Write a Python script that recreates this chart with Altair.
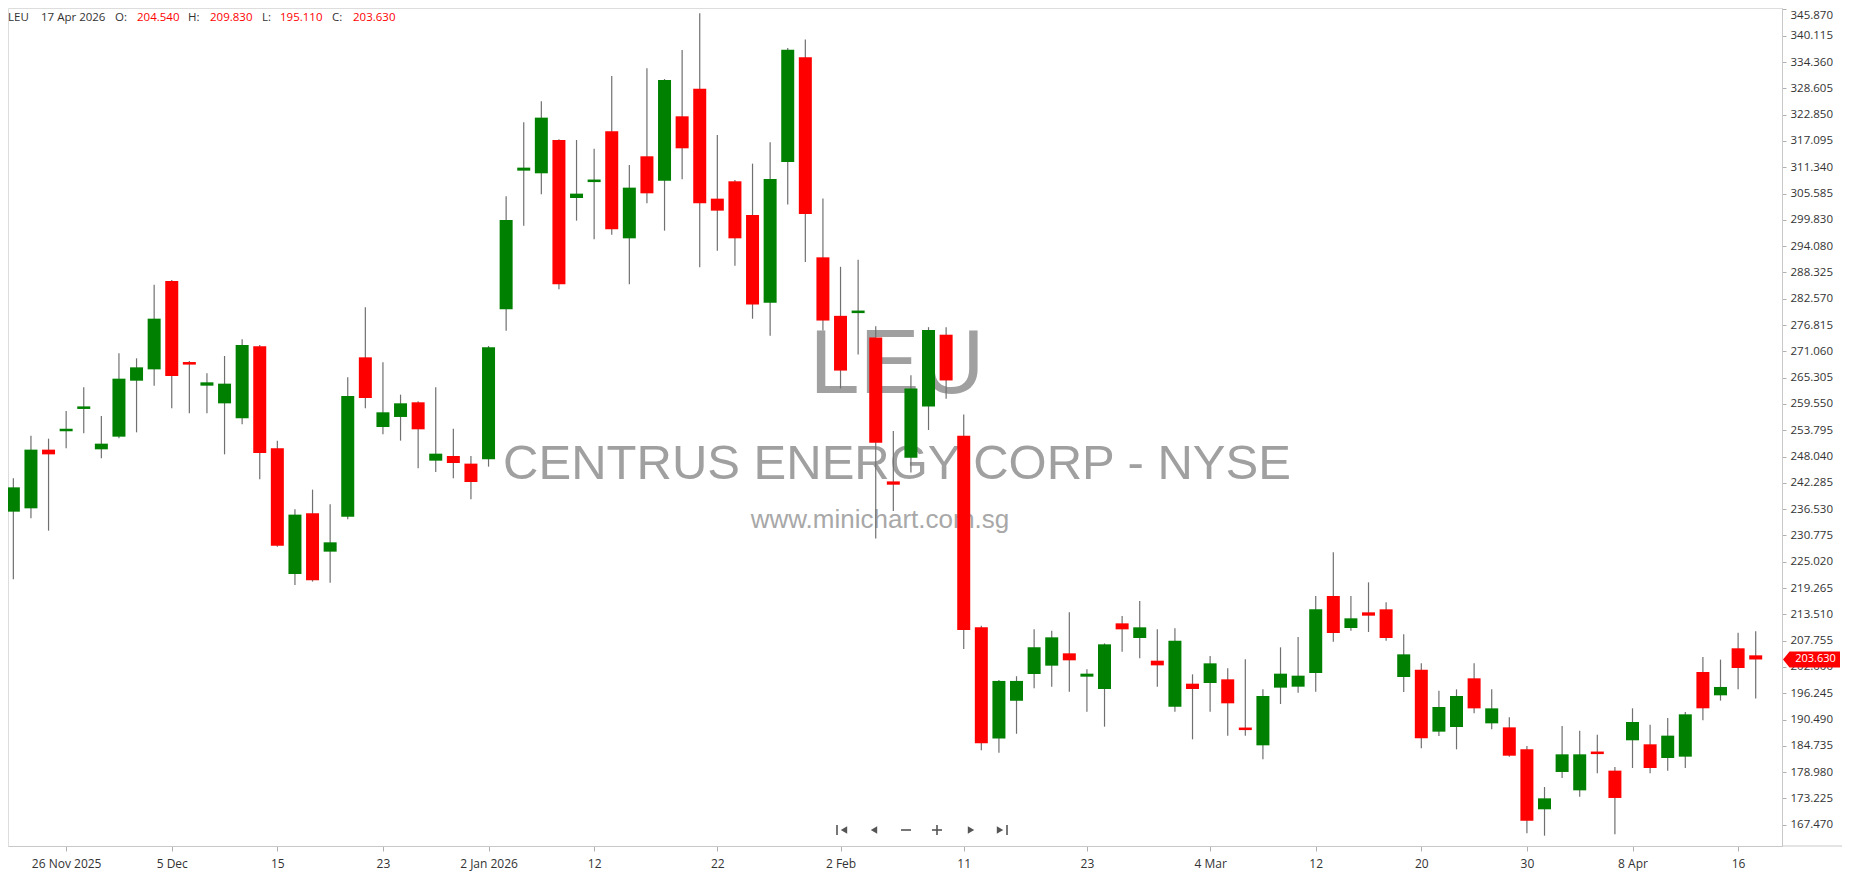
import altair as alt
import pandas as pd

# ---------------- data ----------------
dates = [
    "2025-11-21", "2025-11-24", "2025-11-25", "2025-11-26", "2025-11-28",
    "2025-12-01", "2025-12-02", "2025-12-03", "2025-12-04", "2025-12-05",
    "2025-12-08", "2025-12-09", "2025-12-10", "2025-12-11", "2025-12-12",
    "2025-12-15", "2025-12-16", "2025-12-17", "2025-12-18", "2025-12-19",
    "2025-12-22", "2025-12-23", "2025-12-24", "2025-12-26", "2025-12-29",
    "2025-12-30", "2025-12-31", "2026-01-02", "2026-01-05", "2026-01-06",
    "2026-01-07", "2026-01-08", "2026-01-09", "2026-01-12", "2026-01-13",
    "2026-01-14", "2026-01-15", "2026-01-16", "2026-01-20", "2026-01-21",
    "2026-01-22", "2026-01-23", "2026-01-26", "2026-01-27", "2026-01-28",
    "2026-01-29", "2026-01-30", "2026-02-02", "2026-02-03", "2026-02-04",
    "2026-02-05", "2026-02-06", "2026-02-09", "2026-02-10", "2026-02-11",
    "2026-02-12", "2026-02-13", "2026-02-17", "2026-02-18", "2026-02-19",
    "2026-02-20", "2026-02-23", "2026-02-24", "2026-02-25", "2026-02-26",
    "2026-02-27", "2026-03-02", "2026-03-03", "2026-03-04", "2026-03-05",
    "2026-03-06", "2026-03-09", "2026-03-10", "2026-03-11", "2026-03-12",
    "2026-03-13", "2026-03-16", "2026-03-17", "2026-03-18", "2026-03-19",
    "2026-03-20", "2026-03-23", "2026-03-24", "2026-03-25", "2026-03-26",
    "2026-03-27", "2026-03-30", "2026-03-31", "2026-04-01", "2026-04-02",
    "2026-04-06", "2026-04-07", "2026-04-08", "2026-04-09", "2026-04-10",
    "2026-04-13", "2026-04-14", "2026-04-15", "2026-04-16", "2026-04-17",
]

opens = [
    235.98, 236.71, 249.55, 253.78, 258.66, 249.62, 252.39, 264.64, 267.12, 286.45,
    268.66, 263.55, 259.68, 256.40, 272.16, 249.84, 222.34, 235.62, 227.23, 234.89,
    269.75, 254.51, 256.70, 259.91, 247.14, 248.16, 246.49, 247.43, 280.26, 310.60,
    310.02, 317.31, 304.62, 308.12, 319.21, 295.79, 313.74, 308.41, 322.49, 328.54,
    304.47, 308.27, 300.90, 281.72, 312.48, 335.39, 291.63, 278.83, 279.55, 274.08,
    242.60, 247.76, 259.01, 274.70, 252.61, 210.70, 186.34, 194.60, 200.46, 202.28,
    204.98, 199.87, 197.17, 211.54, 208.33, 203.37, 193.31, 198.34, 198.49, 199.29,
    188.57, 184.85, 197.47, 197.68, 200.67, 217.52, 210.52, 213.95, 214.61, 199.80,
    201.40, 187.84, 188.86, 199.51, 189.66, 188.78, 183.97, 170.85, 179.02, 175.00,
    183.32, 179.31, 185.95, 185.07, 182.08, 182.37, 200.90, 195.79, 206.08, 204.54,
]
highs = [
    243.27, 252.61, 251.95, 258.01, 263.19, 256.91, 270.62, 269.53, 285.65, 286.67,
    268.95, 266.25, 270.04, 273.69, 272.45, 251.52, 236.49, 240.80, 237.59, 265.38,
    280.69, 268.66, 261.58, 260.13, 263.19, 254.14, 248.16, 272.23, 305.00, 321.18,
    325.77, 317.46, 317.31, 315.41, 331.31, 311.84, 332.99, 330.66, 337.00, 345.03,
    318.40, 308.56, 312.13, 316.81, 337.46, 339.32, 304.53, 289.56, 291.11, 276.56,
    253.64, 265.82, 276.35, 276.35, 257.25, 211.01, 199.14, 199.97, 210.23, 209.94,
    213.95, 201.48, 207.16, 213.15, 216.43, 210.23, 210.45, 200.38, 204.39, 201.70,
    203.66, 197.10, 206.29, 208.55, 217.52, 227.08, 217.52, 220.51, 216.14, 209.14,
    202.79, 196.81, 197.10, 202.79, 197.10, 190.97, 184.70, 175.73, 189.08, 188.06,
    187.19, 180.11, 192.95, 189.37, 190.83, 192.15, 204.18, 203.60, 209.50, 209.83,
]
lows = [
    221.17, 234.52, 231.82, 249.84, 253.12, 247.65, 252.03, 253.34, 263.55, 258.59,
    257.50, 257.50, 248.52, 255.09, 243.05, 228.32, 219.94, 220.67, 220.45, 234.31,
    258.59, 252.90, 251.52, 245.46, 244.66, 243.27, 238.68, 245.83, 275.59, 298.56,
    305.42, 284.63, 299.66, 295.57, 296.60, 285.73, 303.45, 297.47, 308.70, 289.45,
    293.09, 289.81, 278.20, 274.49, 303.19, 290.60, 275.63, 262.93, 270.36, 230.11,
    236.10, 244.56, 253.85, 260.66, 205.95, 183.76, 183.25, 187.38, 197.32, 197.68,
    196.59, 192.21, 188.93, 205.34, 203.88, 197.68, 192.21, 186.16, 192.21, 186.96,
    186.96, 181.78, 193.89, 196.37, 196.59, 207.53, 209.94, 209.65, 207.75, 196.52,
    184.19, 186.89, 183.97, 191.85, 188.35, 182.37, 165.59, 165.08, 177.70, 173.62,
    178.72, 165.38, 179.89, 178.72, 179.31, 179.89, 190.32, 194.63, 197.10, 195.11,
]
closes = [
    241.30, 249.55, 248.52, 253.92, 258.81, 250.86, 265.08, 267.56, 278.21, 265.67,
    268.22, 264.28, 263.99, 272.45, 248.82, 228.54, 235.33, 220.96, 229.27, 261.29,
    260.85, 257.72, 259.69, 254.00, 248.67, 246.63, 242.47, 271.94, 299.80, 311.26,
    322.20, 285.73, 305.57, 308.63, 297.76, 306.88, 305.64, 330.44, 315.49, 303.45,
    301.85, 295.79, 281.33, 308.76, 337.04, 301.12, 277.80, 266.85, 279.86, 251.06,
    241.88, 262.93, 275.73, 264.69, 210.08, 185.31, 198.94, 198.94, 206.29, 208.48,
    203.45, 200.53, 206.95, 210.23, 210.67, 202.35, 207.75, 197.17, 202.79, 194.04,
    188.35, 195.64, 200.53, 200.09, 214.61, 209.43, 212.64, 213.22, 208.33, 204.76,
    186.38, 193.24, 195.64, 192.94, 192.94, 182.58, 168.36, 173.25, 182.88, 182.88,
    183.10, 173.33, 189.96, 179.89, 186.97, 191.63, 192.95, 197.62, 201.77, 203.63,
]

tick_idx = [3, 9, 15, 21, 27, 33, 40, 47, 54, 61, 68, 74, 80, 86, 92, 98]
tick_labels = ["26 Nov 2025", "5 Dec", "15", "23", "2 Jan 2026", "12", "22", "2 Feb",
               "11", "23", "4 Mar", "12", "20", "30", "8 Apr", "16"]

y_ticks = [167.470, 173.225, 178.980, 184.735, 190.490, 196.245, 202.000, 207.755,
           213.510, 219.265, 225.020, 230.775, 236.530, 242.285, 248.040, 253.795,
           259.550, 265.305, 271.060, 276.815, 282.570, 288.325, 294.080, 299.830,
           305.585, 311.340, 317.095, 322.850, 328.605, 334.360, 340.115, 345.870]

symbol = "LEU"
company = "CENTRUS ENERGY CORP - NYSE"
site = "www.minichart.com.sg"
last_date_label = "17 Apr 2026"

# ---------------- table ----------------
df = pd.DataFrame({"date": dates, "open": opens, "high": highs, "low": lows, "close": closes})
df["i"] = range(len(df))
df["dir"] = ["up" if c >= o else "down" for o, c in zip(df["open"], df["close"])]
hi = df[["open", "close"]].max(axis=1)
lo = df[["open", "close"]].min(axis=1)
mid = (hi + lo) / 2
thin = (hi - lo) < 0.55
df["body_hi"] = hi.where(~thin, mid + 0.28)
df["body_lo"] = lo.where(~thin, mid - 0.28)

W, H = 1774, 838
FONT = "Open Sans"

label_arr = [""] * len(dates)
for k, s in zip(tick_idx, tick_labels):
    label_arr[k] = s
label_expr = "[" + ",".join("'" + s + "'" for s in label_arr) + "][datum.value]"

xscale = alt.Scale(domain=[-0.02, 100.21], nice=False, zero=False)
yscale = alt.Scale(domain=[162.82, 346.19], nice=False, zero=False)

xaxis = alt.Axis(
    values=tick_idx, labelExpr=label_expr, title=None, grid=False,
    domainColor="#c8c8c8", tickColor="#b0b0b0", tickSize=5, labelPadding=7,
    labelColor="#333333", labelFontSize=12, labelFont=FONT, labelFlush=False,
    labelOverlap=False)
yaxis = alt.Axis(orient="right", values=y_ticks, labelExpr="format(datum.value, '.3f')",
                 title=None, grid=False, domainColor="#c8c8c8", tickColor="#b0b0b0",
                 tickSize=4, labelPadding=4, labelColor="#333333", labelFontSize=11.5,
                 labelFont=FONT, labelOverlap=False, labelFlush=False,
                 labelBaseline={"condition": {"test": "datum.value > 345", "value": "top"},
                                "value": "middle"})

base = alt.Chart(df)

one = pd.DataFrame({"a": [0]})


def txt(s, x, y, **kw):
    return alt.Chart(one).mark_text(text=s, **kw).encode(x=alt.value(x), y=alt.value(y))


# watermarks (behind candles)
wm = alt.layer(
    txt(symbol, 889, 358, font="Liberation Sans", fontSize=90, color="#a0a0a0",
        align="center", baseline="middle"),
    txt(company, 889, 456, font="Liberation Sans", fontSize=49, color="#a0a0a0",
        align="center", baseline="middle"),
    txt(site, 872, 512, font="Liberation Sans", fontSize=26, color="#a8a8a8",
        align="center", baseline="middle"),
)

wicks = base.mark_rule(color="#707070", strokeWidth=1.2).encode(
    x=alt.X("i:Q", scale=xscale, axis=xaxis),
    y=alt.Y("low:Q", scale=yscale, axis=yaxis), y2="high:Q")

bodies = base.mark_bar(size=13).encode(
    x=alt.X("i:Q", scale=xscale, axis=xaxis),
    y=alt.Y("body_lo:Q", scale=yscale, axis=yaxis),
    y2="body_hi:Q",
    color=alt.Color("dir:N", scale=alt.Scale(domain=["up", "down"], range=["#008000", "#ff0000"]),
                    legend=None),
)

# header
last = df.iloc[-1]
hy = 10
hs = 11.5
header = alt.layer(
    txt(symbol, 0, hy, font=FONT, fontSize=hs, color="#333333", align="left", baseline="middle"),
    txt(last_date_label, 33, hy, font=FONT, fontSize=hs, color="#333333", align="left", baseline="middle"),
    txt("O:", 107, hy, font=FONT, fontSize=hs, color="#333333", align="left", baseline="middle"),
    txt(f"{last['open']:.3f}", 129, hy, font=FONT, fontSize=hs, color="#ff0000", align="left", baseline="middle"),
    txt("H:", 180, hy, font=FONT, fontSize=hs, color="#333333", align="left", baseline="middle"),
    txt(f"{last['high']:.3f}", 202, hy, font=FONT, fontSize=hs, color="#ff0000", align="left", baseline="middle"),
    txt("L:", 254, hy, font=FONT, fontSize=hs, color="#333333", align="left", baseline="middle"),
    txt(f"{last['low']:.3f}", 272, hy, font=FONT, fontSize=hs, color="#ff0000", align="left", baseline="middle"),
    txt("C:", 324, hy, font=FONT, fontSize=hs, color="#333333", align="left", baseline="middle"),
    txt(f"{last['close']:.3f}", 345, hy, font=FONT, fontSize=hs, color="#ff0000", align="left", baseline="middle"),
)

# last price tag
tagdf = df.tail(1)
tag_shape = "M -1 0 L -0.77 -0.28 L 1 -0.28 L 1 0.28 L -0.77 0.28 Z"
tag = alt.Chart(tagdf).mark_point(shape=tag_shape, filled=True, size=3249, opacity=1,
                                  color="#ff0000", strokeWidth=0).encode(
    x=alt.value(W + 29.5), y=alt.Y("close:Q", scale=yscale, axis=yaxis))
tag_text = alt.Chart(tagdf).mark_text(font=FONT, fontSize=11, color="white",
                                      align="center", baseline="middle").encode(
    x=alt.value(W + 33.5), y=alt.Y("close:Q", scale=yscale, axis=yaxis),
    text=alt.Text("close:Q", format=".3f"))

# navigation controls
NC = "#555555"
ny = 822
nav = alt.layer(
    alt.Chart(one).mark_rule(color=NC, strokeWidth=1.6).encode(x=alt.value(829), y=alt.value(ny - 5), y2=alt.value(ny + 5)),
    alt.Chart(one).mark_point(shape="triangle-left", filled=True, size=55, color=NC, opacity=1).encode(x=alt.value(836), y=alt.value(ny)),
    alt.Chart(one).mark_point(shape="triangle-left", filled=True, size=55, color=NC, opacity=1).encode(x=alt.value(866), y=alt.value(ny)),
    alt.Chart(one).mark_rule(color=NC, strokeWidth=1.6).encode(x=alt.value(893), x2=alt.value(903), y=alt.value(ny)),
    alt.Chart(one).mark_rule(color=NC, strokeWidth=1.6).encode(x=alt.value(924), x2=alt.value(934), y=alt.value(ny)),
    alt.Chart(one).mark_rule(color=NC, strokeWidth=1.6).encode(x=alt.value(929), y=alt.value(ny - 5), y2=alt.value(ny + 5)),
    alt.Chart(one).mark_point(shape="triangle-right", filled=True, size=55, color=NC, opacity=1).encode(x=alt.value(963), y=alt.value(ny)),
    alt.Chart(one).mark_point(shape="triangle-right", filled=True, size=55, color=NC, opacity=1).encode(x=alt.value(992), y=alt.value(ny)),
    alt.Chart(one).mark_rule(color=NC, strokeWidth=1.6).encode(x=alt.value(999), y=alt.value(ny - 5), y2=alt.value(ny + 5)),
)

# extend bottom line under the price axis
ext = alt.Chart(one).mark_rule(color="#c8c8c8", strokeWidth=1).encode(
    x=alt.value(W), x2=alt.value(W + 60), y=alt.value(H))

chart = alt.layer(wm, wicks, bodies, header, tag, tag_text, nav, ext).resolve_scale(
    y="shared", x="shared"
).properties(
    width=W, height=H,
    autosize=alt.AutoSizeParams(type="none"),
    padding={"left": 0, "top": 0, "right": 60, "bottom": 28},
).configure_view(strokeWidth=0).configure(background="white")

chart.save("out.html", embed_options={"renderer": "svg", "actions": False})
